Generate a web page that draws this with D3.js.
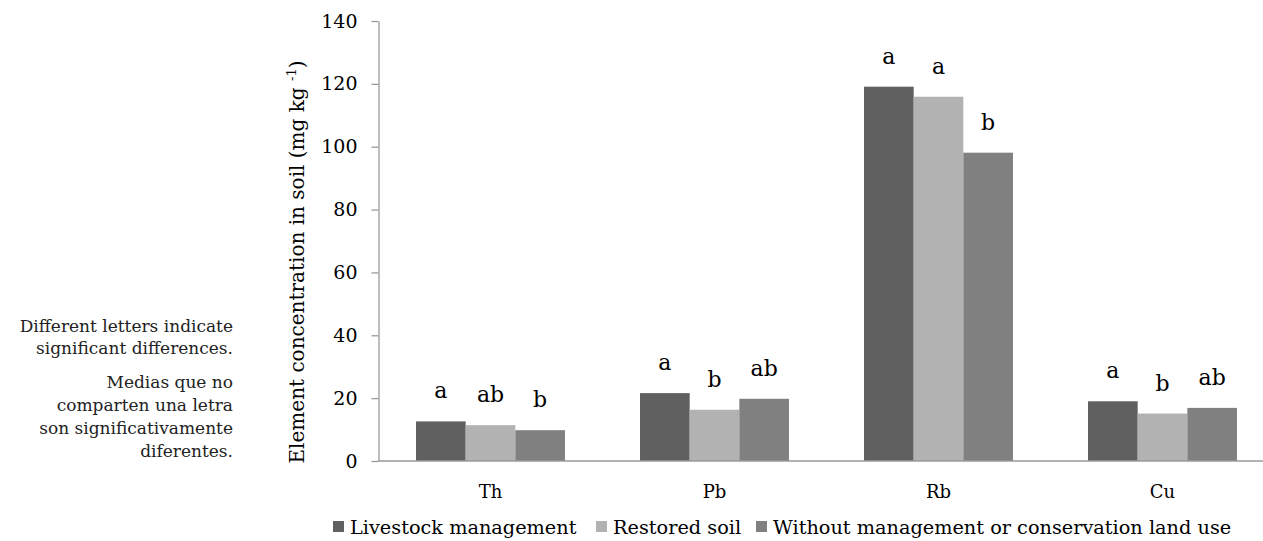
<!DOCTYPE html>
<html>
<head>
<meta charset="utf-8">
<script src="https://cdn.jsdelivr.net/npm/d3@7"></script>
<style>
  html, body { margin: 0; padding: 0; background: #fff; }
  svg { display: block; }
  svg text { font-family: "DejaVu Serif", "Liberation Serif", serif; }
</style>
</head>
<body>
<svg id="chart" width="1263" height="541"></svg>
<script>
// Element concentrations in soil by land use (mg kg-1)
const elements = ["Th", "Pb", "Rb", "Cu"];
const seriesNames = ["Livestock management", "Restored soil", "Without management or conservation land use"];
const livestock = [12.6, 21.6, 119.1, 19.0];
const restored = [11.4, 16.3, 115.9, 15.1];
const withoutMgmt = [9.8, 19.8, 98.1, 16.9];
// Significance letters (Tukey groups) per element and series
const lettersLivestock = ["a", "a", "a", "a"];
const lettersRestored = ["ab", "b", "a", "b"];
const lettersWithout = ["b", "ab", "b", "ab"];
const yTicks = [0, 20, 40, 60, 80, 100, 120, 140];
const noteLines = ["Different letters indicate", "significant differences."];
const noteLinesEs = ["Medias que no", "comparten una letra", "son significativamente", "diferentes."];

const colors = ["#606060", "#b2b2b2", "#808080"];
const seriesValues = [livestock, restored, withoutMgmt];
const seriesLetters = [lettersLivestock, lettersRestored, lettersWithout];
const FONT = "DejaVu Serif, Liberation Serif, serif";

const svg = d3.select("#chart").attr("font-family", FONT);
const axisLeft = 378.5, plotTop = 21, plotBottom = 461;
const step = 224;

const x = d3.scaleBand()
  .domain(elements)
  .range([axisLeft, axisLeft + step * elements.length])
  .paddingInner(0.335)
  .paddingOuter(0.1675);
const xSub = d3.scaleBand()
  .domain(d3.range(seriesNames.length))
  .range([0, x.bandwidth()]);
const y = d3.scaleLinear().domain([0, 140]).range([plotBottom, plotTop]);

const cells = (d, i) => seriesValues.map((vals, s) => ({ s, v: vals[i], letter: seriesLetters[s][i] }));

// Bars
const groups = svg.append("g").selectAll("g")
  .data(elements)
  .join("g")
  .attr("transform", d => `translate(${x(d)},0)`);

groups.selectAll("rect")
  .data(cells)
  .join("rect")
  .attr("x", d => xSub(d.s))
  .attr("y", d => y(d.v))
  .attr("width", xSub.bandwidth())
  .attr("height", d => y(0) - y(d.v))
  .attr("fill", d => colors[d.s]);

// Significance letters above the bars
groups.selectAll("text.letter")
  .data(cells)
  .join("text")
  .attr("class", "letter")
  .attr("x", d => xSub(d.s) + xSub.bandwidth() / 2)
  .attr("y", d => y(d.v) - 23)
  .attr("text-anchor", "middle")
  .attr("font-family", FONT)
  .attr("font-size", 22)
  .attr("fill", "#000")
  .text(d => d.letter);

// Y axis
const yAxis = svg.append("g")
  .attr("transform", `translate(${axisLeft},0)`)
  .call(d3.axisLeft(y).tickValues(yTicks).tickSize(7).tickSizeOuter(0).tickPadding(14));
yAxis.select(".domain").attr("stroke", "#9a9a9a").attr("stroke-width", 1.3);
yAxis.selectAll(".tick line").attr("stroke", "#9a9a9a").attr("stroke-width", 1.3);
yAxis.selectAll(".tick text")
  .attr("font-family", FONT)
  .attr("font-size", 19)
  .attr("fill", "#000");

// X axis baseline and category labels
const xAxis = svg.append("g")
  .attr("transform", `translate(0,${plotBottom})`)
  .call(d3.axisBottom(x).tickSize(0).tickPadding(24));
xAxis.select(".domain")
  .attr("d", `M${axisLeft},0H1263`)
  .attr("stroke", "#9a9a9a").attr("stroke-width", 1.3);
xAxis.selectAll(".tick text")
  .attr("font-family", FONT)
  .attr("font-size", 18)
  .attr("fill", "#000");

// Y axis title
svg.append("text")
  .attr("transform", `translate(304,262) rotate(-90)`)
  .attr("text-anchor", "middle")
  .attr("font-family", FONT)
  .attr("font-size", 20)
  .attr("fill", "#000")
  .call(t => {
    t.append("tspan").text("Element concentration in soil (mg kg ");
    t.append("tspan").attr("font-size", 13).attr("dy", -8).text("-1");
    t.append("tspan").attr("dy", 8).text(")");
  });

// Legend
const legend = svg.append("g").attr("transform", "translate(0,534)");
const legendX = [333, 596, 756];
seriesNames.forEach((name, i) => {
  const g = legend.append("g").attr("transform", `translate(${legendX[i]},0)`);
  g.append("rect").attr("x", 0).attr("y", -13).attr("width", 11).attr("height", 11).attr("fill", colors[i]);
  g.append("text").attr("x", 17).attr("y", 0)
    .attr("font-family", FONT).attr("font-size", 19.3).attr("fill", "#000").text(name);
});

// Note on significance letters
const note = svg.append("g")
  .attr("text-anchor", "end")
  .attr("font-family", FONT)
  .attr("font-size", 17)
  .attr("fill", "#222");
noteLines.forEach((line, i) => {
  note.append("text").attr("x", 233).attr("y", 332 + i * 22).text(line);
});
noteLinesEs.forEach((line, i) => {
  note.append("text").attr("x", 233).attr("y", 388 + i * 23).text(line);
});
</script>
</body>
</html>
